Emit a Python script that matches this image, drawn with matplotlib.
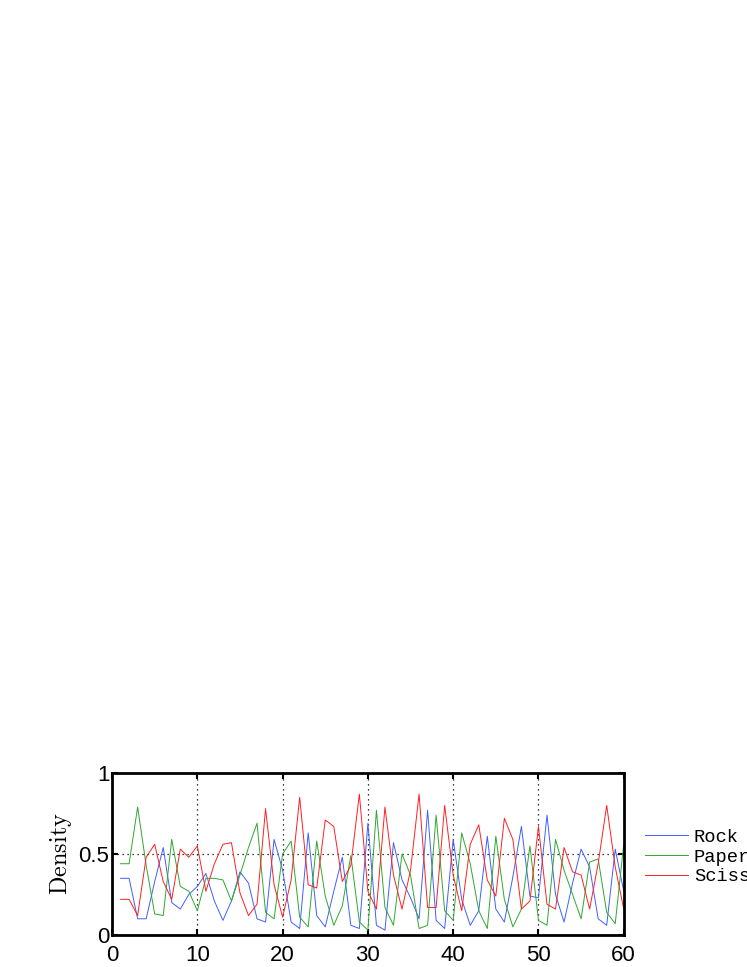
import numpy as np
import matplotlib
matplotlib.use("Agg")
import matplotlib.pyplot as plt

plt.rcParams['mathtext.fontset'] = 'cm'

steps = list(range(1, 61))

rock = [0.35, 0.35, 0.10, 0.10, 0.33, 0.54, 0.20, 0.16, 0.25, 0.30,
        0.38, 0.21, 0.09, 0.21, 0.39, 0.32, 0.10, 0.08, 0.59, 0.40,
        0.08, 0.04, 0.63, 0.12, 0.05, 0.27, 0.48, 0.06, 0.04, 0.69,
        0.06, 0.03, 0.57, 0.34, 0.23, 0.10, 0.77, 0.09, 0.04, 0.59,
        0.22, 0.06, 0.15, 0.61, 0.16, 0.08, 0.36, 0.67, 0.24, 0.23,
        0.74, 0.25, 0.08, 0.32, 0.53, 0.42, 0.10, 0.06, 0.53, 0.27]

paper = [0.44, 0.44, 0.79, 0.43, 0.13, 0.12, 0.59, 0.30, 0.27, 0.15,
         0.35, 0.35, 0.34, 0.21, 0.37, 0.54, 0.69, 0.14, 0.10, 0.50,
         0.58, 0.11, 0.05, 0.58, 0.24, 0.06, 0.18, 0.49, 0.08, 0.03,
         0.77, 0.17, 0.06, 0.50, 0.37, 0.04, 0.06, 0.74, 0.15, 0.09,
         0.63, 0.44, 0.15, 0.04, 0.61, 0.22, 0.05, 0.16, 0.55, 0.09,
         0.06, 0.59, 0.40, 0.25, 0.10, 0.45, 0.47, 0.14, 0.07, 0.56]

scissors = [0.22, 0.22, 0.12, 0.48, 0.56, 0.33, 0.22, 0.53, 0.48, 0.55,
            0.27, 0.44, 0.56, 0.57, 0.26, 0.12, 0.19, 0.78, 0.31, 0.11,
            0.34, 0.85, 0.31, 0.29, 0.71, 0.67, 0.33, 0.43, 0.87, 0.27,
            0.16, 0.79, 0.37, 0.16, 0.40, 0.87, 0.17, 0.17, 0.80, 0.37,
            0.15, 0.56, 0.68, 0.34, 0.24, 0.72, 0.59, 0.16, 0.21, 0.67,
            0.19, 0.16, 0.54, 0.39, 0.37, 0.16, 0.44, 0.80, 0.42, 0.16]

colors = ['#3f5fff', '#2ea82e', '#ff2020']
labels = ['Rock', 'Paper', 'Scissors']

fig = plt.figure(figsize=(7.47, 9.67), dpi=100)
ax = fig.add_axes([0.150, 0.0331, 0.685, 0.1675])

handles = []
for series, c, lab in zip([rock, paper, scissors], colors, labels):
    h, = ax.plot(steps, series, color=c, lw=0.7, label=lab)
    handles.append(h)

ax.set_xlim(0, 60)
ax.set_ylim(0, 1)
ax.set_xticks(range(0, 61, 10))
ax.set_yticks([0, 0.5, 1])
ax.set_yticklabels(['0', '0.5', '1'])

# dotted grid like matlab
for xv in range(10, 60, 10):
    ax.axvline(xv, color='black', ls=(0, (1, 3)), lw=0.9, zorder=0)
ax.axhline(0.5, color='black', ls=(0, (1, 3)), lw=0.9, zorder=0)

for s in ax.spines.values():
    s.set_linewidth(2)
ax.tick_params(direction='in', top=True, right=True, length=4, width=1.5,
               labelsize=16, pad=2)
ax.tick_params(axis='x', pad=7)
for lab in ax.get_xticklabels() + ax.get_yticklabels():
    lab.set_family('Liberation Sans')

ax.set_ylabel(r'$\mathrm{Density}$', fontsize=17.5, labelpad=3)

fig.legend(handles=handles, labels=labels, loc='upper left',
           bbox_to_anchor=(0.8635, 0.1428), frameon=False,
           prop={'family': 'Liberation Mono', 'size': 13.5},
           handlelength=2.3, handletextpad=0.3, labelspacing=0.13,
           borderaxespad=0, borderpad=0)

plt.savefig("out.png", dpi=100)
